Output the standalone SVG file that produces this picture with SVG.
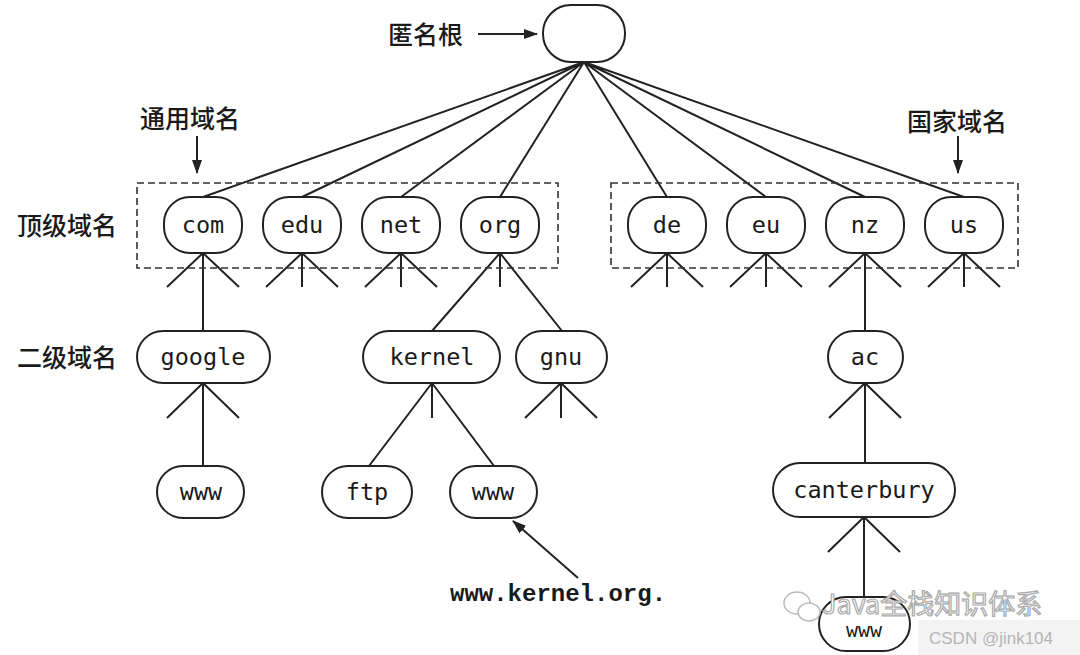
<svg xmlns="http://www.w3.org/2000/svg" width="1080" height="655" viewBox="0 0 1080 655">
<style>
.n{fill:#fff;stroke:#222;stroke-width:2}
.t{font-family:"DejaVu Sans Mono","Liberation Mono",monospace;font-size:23.5px;fill:#1a1a1a;text-anchor:middle}
.c{stroke:#222;stroke-width:2;fill:none}
.d{stroke:#333;stroke-width:1.6;fill:none;stroke-dasharray:7,4}
.cn{font-family:"Noto Sans CJK SC",sans-serif;font-size:25px;font-weight:500;fill:#1a1a1a}
</style>
<defs>
<marker id="ah" viewBox="0 0 14 10" refX="13" refY="5" markerWidth="14" markerHeight="10" orient="auto-start-reverse" markerUnits="userSpaceOnUse">
<path d="M0,0 L14,5 L0,10 z" fill="#222"/>
</marker>
</defs>
<rect width="1080" height="655" fill="#fff"/>
<g id="connectors">
<path class="c" d="M584,62 L203,197 M584,62 L302,197 M584,62 L401,197 M584,62 L500,197 M584,62 L667,197 M584,62 L766,197 M584,62 L865,197 M584,62 L964,197"/>
<path class="c" d="M203,253 L167,287 M203,253 L239,287 M203,253 L203,331"/>
<path class="c" d="M302,253 L266,287 M302,253 L338,287 M302,253 L302,287"/>
<path class="c" d="M401,253 L365,287 M401,253 L437,287 M401,253 L401,287"/>
<path class="c" d="M500,253 L432,331 M500,253 L562,331 M500,253 L500,287"/>
<path class="c" d="M667,253 L631,287 M667,253 L703,287 M667,253 L667,287"/>
<path class="c" d="M766,253 L730,287 M766,253 L802,287 M766,253 L766,287"/>
<path class="c" d="M865,253 L829,287 M865,253 L901,287 M865,253 L865,331"/>
<path class="c" d="M964,253 L928,287 M964,253 L1000,287 M964,253 L964,287"/>
<path class="c" d="M203,383 L167,418 M203,383 L239,418 M203,383 L203,466"/>
<path class="c" d="M432,383 L369,466 M432,383 L494,466 M432,383 L432,418"/>
<path class="c" d="M561,383 L525,418 M561,383 L597,418 M561,383 L561,418"/>
<path class="c" d="M865,383 L829,418 M865,383 L901,418 M865,383 L865,463"/>
<path class="c" d="M864,517 L828,552 M864,517 L900,552 M864,517 L864,597"/>
<rect class="d" x="137" y="183" width="421" height="85"/>
<rect class="d" x="611" y="183" width="407" height="85"/>
<line class="c" x1="478" y1="34" x2="537" y2="34" marker-end="url(#ah)"/>
<line class="c" x1="197" y1="136" x2="197" y2="173" marker-end="url(#ah)"/>
<line class="c" x1="958" y1="136" x2="958" y2="173" marker-end="url(#ah)"/>
<line class="c" x1="578" y1="578" x2="513" y2="521" marker-end="url(#ah)"/>
</g>
<g id="labels">
<text class="cn" x="388" y="44">匿名根</text>
<text class="cn" x="140" y="128">通用域名</text>
<text class="cn" x="907" y="131">国家域名</text>
<text class="cn" x="17" y="235">顶级域名</text>
<text class="cn" x="17" y="367">二级域名</text>
<text x="450" y="601" style="font-family:'Liberation Mono',monospace;font-size:24px;font-weight:bold;fill:#1a1a1a">www.kernel.org.</text>
</g>
<g id="root"><rect class="n" x="543" y="5" width="82" height="57" rx="28"/></g>
<g id="com"><rect class="n" x="164" y="197" width="78" height="56" rx="26"/><text class="t" x="203" y="233">com</text></g>
<g id="edu"><rect class="n" x="263" y="197" width="78" height="56" rx="26"/><text class="t" x="302" y="233">edu</text></g>
<g id="net"><rect class="n" x="362" y="197" width="78" height="56" rx="26"/><text class="t" x="401" y="233">net</text></g>
<g id="org"><rect class="n" x="461" y="197" width="78" height="56" rx="26"/><text class="t" x="500" y="233">org</text></g>
<g id="de"><rect class="n" x="628" y="197" width="78" height="56" rx="26"/><text class="t" x="667" y="233">de</text></g>
<g id="eu"><rect class="n" x="727" y="197" width="78" height="56" rx="26"/><text class="t" x="766" y="233">eu</text></g>
<g id="nz"><rect class="n" x="826" y="197" width="78" height="56" rx="26"/><text class="t" x="865" y="233">nz</text></g>
<g id="us"><rect class="n" x="925" y="197" width="78" height="56" rx="26"/><text class="t" x="964" y="233">us</text></g>
<g id="google"><rect class="n" x="137" y="331" width="133" height="52" rx="26"/><text class="t" x="203" y="365">google</text></g>
<g id="kernel"><rect class="n" x="363" y="331" width="137" height="52" rx="26"/><text class="t" x="432" y="365">kernel</text></g>
<g id="gnu"><rect class="n" x="516" y="331" width="91" height="52" rx="26"/><text class="t" x="561" y="365">gnu</text></g>
<g id="ac"><rect class="n" x="828" y="331" width="75" height="52" rx="26"/><text class="t" x="865" y="365">ac</text></g>
<g id="www1"><rect class="n" x="157" y="466" width="87" height="52" rx="26"/><text class="t" x="201" y="500">www</text></g>
<g id="ftp"><rect class="n" x="322" y="466" width="90" height="52" rx="26"/><text class="t" x="367" y="500">ftp</text></g>
<g id="www2"><rect class="n" x="450" y="466" width="87" height="52" rx="26"/><text class="t" x="493" y="500">www</text></g>
<g id="canterbury"><rect class="n" x="773" y="463" width="182" height="54" rx="27"/><text class="t" x="864" y="498">canterbury</text></g>
<g id="www3"><rect class="n" x="819" y="597" width="91" height="54" rx="27"/><text class="t" x="864" y="637" style="font-size:20px">www</text></g>
<g id="watermark">
<rect x="918" y="620" width="162" height="35" fill="#f3f3f3"/>
<g fill="#fff" stroke="#bbb" stroke-width="1.5">
<ellipse cx="797" cy="603" rx="13" ry="11"/>
<ellipse cx="809" cy="612" rx="11" ry="9"/>
</g>
<text x="822" y="614" style="font-family:'Noto Sans CJK SC',sans-serif;font-size:27px;fill:#fff;stroke:#aaa;stroke-width:1.2">Java全栈知识体系</text>
<text x="929" y="644" style="font-family:'Liberation Sans',sans-serif;font-size:17px;fill:#b5b5b5">CSDN @jink104</text>
</g>
</svg>
